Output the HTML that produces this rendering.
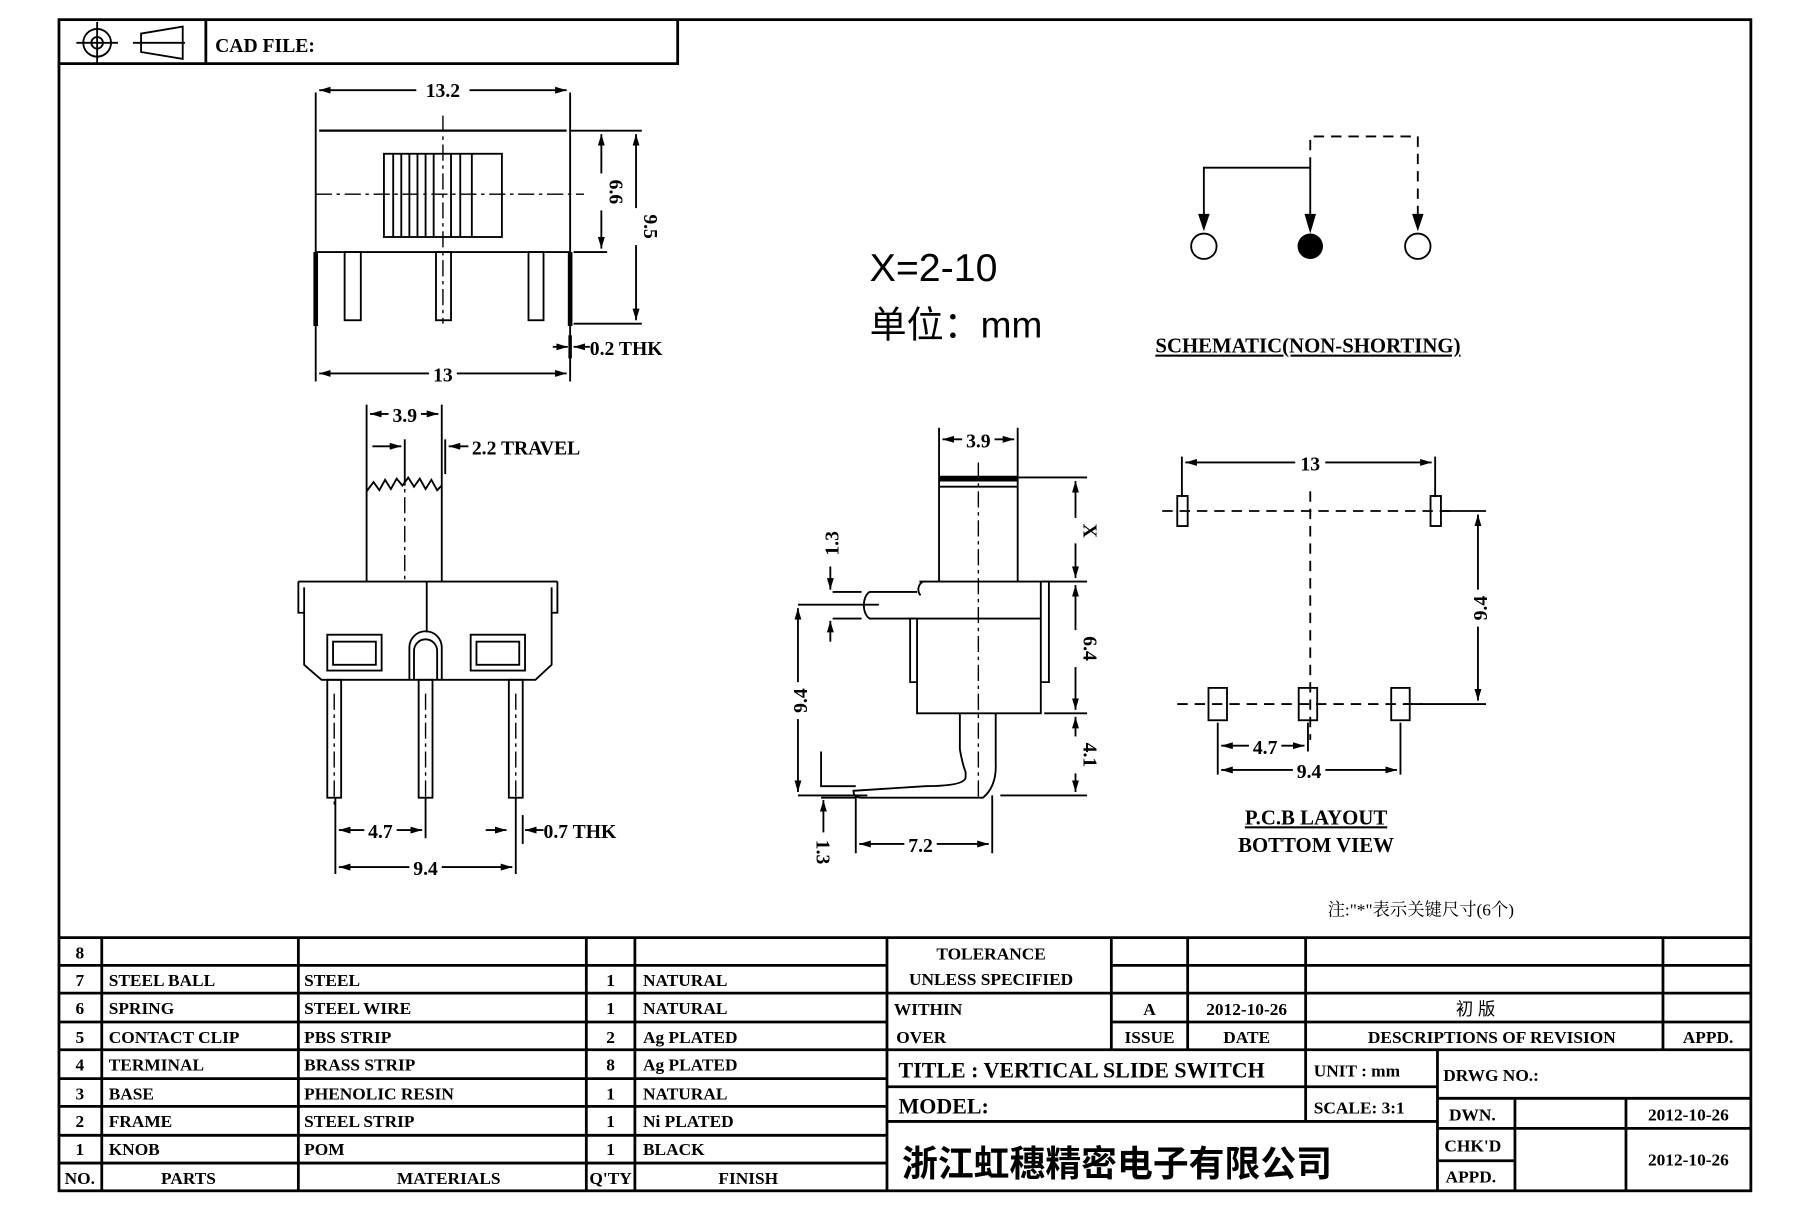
<!DOCTYPE html>
<html><head><meta charset="utf-8"><style>
html,body{margin:0;padding:0;background:#fff}
svg{display:block}
text{font-family:"Liberation Serif","Noto Serif CJK SC",serif;font-weight:bold;fill:#000}
.s{stroke:#000;stroke-width:1.6;fill:none}
.t{stroke:#000;stroke-width:2.4;fill:none}
.c{stroke:#000;stroke-width:1.2;fill:none;stroke-dasharray:14 4 3 4}
.d{stroke:#000;stroke-width:1.6;fill:none;stroke-dasharray:9 6}
.cn{font-family:"Liberation Sans","Noto Sans CJK SC",sans-serif}
</style></head><body>
<svg width="1811" height="1207" viewBox="0 0 1566 1044" preserveAspectRatio="none" xmlns="http://www.w3.org/2000/svg">
<defs>
<marker id="a" viewBox="0 0 10 6" refX="10" refY="3" markerWidth="10" markerHeight="6" orient="auto-start-reverse" markerUnits="userSpaceOnUse"><path d="M0,0L10,3L0,6z" fill="#000"/></marker>
</defs>
<!-- border -->
<rect x="51" y="17" width="1463" height="1013" class="t"/>
<path class="t" d="M51 55H586V17M178 17V55"/>
<circle cx="84" cy="37" r="12" class="s"/><circle cx="84" cy="37" r="5" class="s"/>
<path class="s" d="M66 37H102M84 19V55M115 37H160M122 29L158 23V51L122 45Z"/>
<text x="186" y="45" font-size="17">CAD  FILE:</text>

<!-- TOP VIEW -->
<path class="s" d="M273 80V218M493 80V218M273 218V330M493 218V330"/>
<line x1="276" y1="78" x2="490" y2="78" class="s" marker-start="url(#a)" marker-end="url(#a)"/>
<rect x="360" y="68" width="46" height="18" fill="#fff"/><text x="383" y="84" font-size="17" text-anchor="middle">13.2</text>
<path d="M276 113H490" stroke="#000" stroke-width="2" fill="none"/>
<path class="s" d="M273 218H493M493 113H555M496 218H525M496 280H555"/>
<rect x="332" y="133" width="102" height="72" class="s" stroke-width="2"/>
<path class="s" stroke-width="1" d="M340 133V205M347 133V205M354 133V205M361 133V205M368 133V205M375 133V205M390 133V205M398 133V205M408 133V205"/>
<path class="c" d="M273 168H505M383 100V280"/>
<path d="M273 218V282M493 218V282" stroke="#000" stroke-width="4"/>
<rect x="298" y="218" width="14" height="59" class="s"/><rect x="377" y="218" width="13" height="59" class="s"/><rect x="457" y="218" width="13" height="59" class="s"/>
<line x1="520" y1="116" x2="520" y2="215" class="s" marker-start="url(#a)" marker-end="url(#a)"/>
<rect x="511" y="150" width="18" height="32" fill="#fff"/><text transform="translate(527,166) rotate(90)" font-size="17" text-anchor="middle">6.6</text>
<line x1="550" y1="116" x2="550" y2="277" class="s" marker-start="url(#a)" marker-end="url(#a)"/>
<rect x="541" y="180" width="18" height="32" fill="#fff"/><text transform="translate(557,196) rotate(90)" font-size="17" text-anchor="middle">9.5</text>
<path d="M493 290V310" stroke="#000" stroke-width="3"/>
<line x1="478" y1="300" x2="491" y2="300" class="s" marker-end="url(#a)"/>
<line x1="510" y1="300" x2="496" y2="300" class="s" marker-end="url(#a)"/>
<text x="510" y="307" font-size="17">0.2  THK</text>
<line x1="276" y1="323" x2="490" y2="323" class="s" marker-start="url(#a)" marker-end="url(#a)"/>
<rect x="371" y="313" width="24" height="18" fill="#fff"/><text x="383" y="330" font-size="17" text-anchor="middle">13</text>

<!-- FRONT VIEW -->
<path class="s" d="M317 350V503M382 350V503"/>
<line x1="320" y1="358" x2="379" y2="358" class="s" marker-start="url(#a)" marker-end="url(#a)"/>
<rect x="336" y="348" width="28" height="18" fill="#fff"/><text x="350" y="365" font-size="17" text-anchor="middle">3.9</text>
<path class="s" d="M317 425L323 417L328 424L333 415L338 423L343 414L348 420L353 413L358 421L363 414L368 423L373 415L378 424L382 420"/>
<line x1="322" y1="386" x2="347" y2="386" class="s" marker-end="url(#a)"/>
<path class="s" d="M350 380V420M385 380V410"/>
<line x1="405" y1="386" x2="388" y2="386" class="s" marker-end="url(#a)"/>
<text x="408" y="393" font-size="17">2.2  TRAVEL</text>
<path class="c" d="M350 380V503"/>
<path class="s" d="M258 503H482M258 503V530H263M482 503V530H477M263 508V575L278 588H463L477 575V508"/>
<path class="s" d="M369 503V547"/>
<rect x="283" y="549" width="47" height="31" class="s"/><rect x="288" y="555" width="37" height="20" class="s"/>
<rect x="407" y="549" width="47" height="31" class="s"/><rect x="412" y="555" width="37" height="20" class="s"/>
<path class="s" d="M354 588V560A14 14 0 0 1 382 560V588M358 588V563A10 10 0 0 1 378 563V588"/>
<rect x="283" y="588" width="12" height="102" class="s"/><rect x="362" y="588" width="12" height="102" class="s"/><rect x="440" y="588" width="12" height="102" class="s"/>
<path class="c" d="M289 600V700M368 600V700M446 600V700"/>
<path class="s" d="M290 690V756M368 690V725M446 690V756M446 705V730"/>
<line x1="293" y1="718" x2="365" y2="718" class="s" marker-start="url(#a)" marker-end="url(#a)"/>
<rect x="315" y="708" width="28" height="18" fill="#fff"/><text x="329" y="725" font-size="17" text-anchor="middle">4.7</text>
<line x1="420" y1="718" x2="438" y2="718" class="s" marker-end="url(#a)"/>
<line x1="470" y1="718" x2="454" y2="718" class="s" marker-end="url(#a)"/>
<path class="s" d="M452 705V730"/>
<text x="470" y="725" font-size="17">0.7  THK</text>
<line x1="293" y1="750" x2="443" y2="750" class="s" marker-start="url(#a)" marker-end="url(#a)"/>
<rect x="354" y="740" width="28" height="18" fill="#fff"/><text x="368" y="757" font-size="17" text-anchor="middle">9.4</text>

<!-- X=2-10 -->
<text x="752" y="243" font-size="34" style="font-weight:normal" class="cn">X=2-10</text>
<text x="752" y="292" font-size="32" style="font-weight:normal" class="cn">单位：mm</text>

<!-- SIDE VIEW -->
<path class="s" d="M812 370V413M880 370V413"/>
<line x1="815" y1="380" x2="877" y2="380" class="s" marker-start="url(#a)" marker-end="url(#a)"/>
<rect x="832" y="370" width="28" height="18" fill="#fff"/><text x="846" y="387" font-size="17" text-anchor="middle">3.9</text>
<path d="M812 414H880" stroke="#000" stroke-width="5"/>
<path class="s" d="M812 413V503M880 413V503M812 421H880"/>
<path class="s" d="M795 503H900M900 503H907V590H900V503M793 535H900M793 535V617H900V535M787 535H793V590H787Z"/>
<path class="s" d="M793 512H752A7 12 0 0 0 752 535H793M798 503A8 8 0 0 0 796 515"/>
<path class="c" d="M846 400V690M695 523H760"/>
<path class="s" d="M830 617V648Q832 660 835 668L835 672Q835 680 800 680L738 684Q738 690 745 690H850Q862 680 861 660V617"/>
<path class="s" d="M880 413H940M903 503H940M903 617H940M865 688H940M690 688H750M690 523H760M720 512H745M720 535H745"/>
<line x1="930" y1="416" x2="930" y2="500" class="s" marker-start="url(#a)" marker-end="url(#a)"/>
<rect x="921" y="448" width="18" height="22" fill="#fff"/><text transform="translate(937,459) rotate(90)" font-size="17" text-anchor="middle">X</text>
<line x1="930" y1="506" x2="930" y2="614" class="s" marker-start="url(#a)" marker-end="url(#a)"/>
<rect x="921" y="545" width="18" height="32" fill="#fff"/><text transform="translate(937,561) rotate(90)" font-size="17" text-anchor="middle">6.4</text>
<line x1="930" y1="620" x2="930" y2="685" class="s" marker-start="url(#a)" marker-end="url(#a)"/>
<rect x="921" y="637" width="18" height="32" fill="#fff"/><text transform="translate(937,653) rotate(90)" font-size="17" text-anchor="middle">4.1</text>
<line x1="690" y1="526" x2="690" y2="685" class="s" marker-start="url(#a)" marker-end="url(#a)"/>
<rect x="681" y="590" width="18" height="32" fill="#fff"/><text transform="translate(698,606) rotate(-90)" font-size="17" text-anchor="middle">9.4</text>
<line x1="718" y1="490" x2="718" y2="510" class="s" marker-end="url(#a)"/>
<line x1="718" y1="555" x2="718" y2="537" class="s" marker-end="url(#a)"/>
<text transform="translate(725,470) rotate(-90)" font-size="17" text-anchor="middle">1.3</text>
<path class="s" d="M710 650V680H740M710 690H740"/>
<line x1="712" y1="720" x2="712" y2="692" class="s" marker-end="url(#a)"/>
<text transform="translate(706,737) rotate(90)" font-size="17" text-anchor="middle">1.3</text>
<path class="s" d="M740 688V738M858 688V738"/>
<line x1="743" y1="730" x2="855" y2="730" class="s" marker-start="url(#a)" marker-end="url(#a)"/>
<rect x="782" y="720" width="28" height="18" fill="#fff"/><text x="796" y="737" font-size="17" text-anchor="middle">7.2</text>

<!-- SCHEMATIC -->
<path class="s" d="M1133 145H1041V190M1133 145V198"/>
<path class="d" d="M1133 145V118H1226V195"/>
<path d="M1036 185L1041 200L1046 185Z M1128 185L1133 202L1138 185Z M1221 185L1226 200L1231 185Z" fill="#000"/>
<circle cx="1041" cy="213" r="11" class="s"/><circle cx="1133" cy="213" r="11" fill="#000"/><circle cx="1226" cy="213" r="11" class="s"/>
<text x="1131" y="305" font-size="18" text-anchor="middle" text-decoration="underline">SCHEMATIC(NON-SHORTING)</text>

<!-- PCB LAYOUT -->
<path class="s" d="M1022 395V430M1241 395V430M1245 442H1285M1215 609H1285M1053 625V670M1131 625V650M1211 625V670"/>
<line x1="1025" y1="400" x2="1238" y2="400" class="s" marker-start="url(#a)" marker-end="url(#a)"/>
<rect x="1120" y="390" width="26" height="18" fill="#fff"/><text x="1133" y="407" font-size="17" text-anchor="middle">13</text>
<line x1="1278" y1="445" x2="1278" y2="606" class="s" marker-start="url(#a)" marker-end="url(#a)"/>
<rect x="1269" y="510" width="18" height="32" fill="#fff"/><text transform="translate(1286,526) rotate(-90)" font-size="17" text-anchor="middle">9.4</text>
<line x1="1056" y1="645" x2="1128" y2="645" class="s" marker-start="url(#a)" marker-end="url(#a)"/>
<rect x="1080" y="635" width="28" height="18" fill="#fff"/><text x="1094" y="652" font-size="17" text-anchor="middle">4.7</text>
<line x1="1056" y1="666" x2="1208" y2="666" class="s" marker-start="url(#a)" marker-end="url(#a)"/>
<rect x="1118" y="656" width="28" height="18" fill="#fff"/><text x="1132" y="673" font-size="17" text-anchor="middle">9.4</text>
<rect x="1018" y="429" width="9" height="26" class="s" fill="#fff"/><rect x="1237" y="429" width="9" height="26" class="s" fill="#fff"/>
<rect x="1045" y="595" width="16" height="28" class="s" fill="#fff"/><rect x="1123" y="595" width="16" height="28" class="s" fill="#fff"/><rect x="1203" y="595" width="16" height="28" class="s" fill="#fff"/>
<path class="d" d="M1005 442H1260M1018 609H1230M1133 425V640"/>
<text x="1138" y="713" font-size="18" text-anchor="middle" text-decoration="underline">P.C.B LAYOUT</text>
<text x="1138" y="737" font-size="18" text-anchor="middle">BOTTOM  VIEW</text>
<text x="1148" y="792" font-size="15" style="font-weight:normal">注:"*"表示关键尺寸(6个)</text>

<!-- PARTS TABLE -->
<g class="t" stroke-width="2">
<path d="M51 811H1514"/>
<path d="M51 835H767M51 859H767M51 884H767M51 908H767M51 933H767M51 957H767M51 982H767M51 1006H767"/>
<path d="M88 811V1030M258 811V1030M507 811V1030M549 811V1030M767 811V1030"/>
<path d="M961 835H1514M767 859H1514M961 884H1514M767 908H1514M767 940H1243M767 970H1243M1243 950H1514M1243 976H1514M1243 1004H1310"/>
<path d="M961 811V908M1027 811V908M1129 811V970M1438 811V908M1243 908V1030M1310 950V1030M1406 950V1030"/>
</g>
<g font-size="15">
<text x="69" y="829" text-anchor="middle">8</text>
<text x="69" y="853" text-anchor="middle">7</text><text x="94" y="853">STEEL  BALL</text><text x="263" y="853">STEEL</text><text x="528" y="853" text-anchor="middle">1</text><text x="556" y="853">NATURAL</text>
<text x="69" y="877" text-anchor="middle">6</text><text x="94" y="877">SPRING</text><text x="263" y="877">STEEL  WIRE</text><text x="528" y="877" text-anchor="middle">1</text><text x="556" y="877">NATURAL</text>
<text x="69" y="902" text-anchor="middle">5</text><text x="94" y="902">CONTACT  CLIP</text><text x="263" y="902">PBS  STRIP</text><text x="528" y="902" text-anchor="middle">2</text><text x="556" y="902">Ag  PLATED</text>
<text x="69" y="926" text-anchor="middle">4</text><text x="94" y="926">TERMINAL</text><text x="263" y="926">BRASS  STRIP</text><text x="528" y="926" text-anchor="middle">8</text><text x="556" y="926">Ag  PLATED</text>
<text x="69" y="951" text-anchor="middle">3</text><text x="94" y="951">BASE</text><text x="263" y="951">PHENOLIC  RESIN</text><text x="528" y="951" text-anchor="middle">1</text><text x="556" y="951">NATURAL</text>
<text x="69" y="975" text-anchor="middle">2</text><text x="94" y="975">FRAME</text><text x="263" y="975">STEEL  STRIP</text><text x="528" y="975" text-anchor="middle">1</text><text x="556" y="975">Ni  PLATED</text>
<text x="69" y="999" text-anchor="middle">1</text><text x="94" y="999">KNOB</text><text x="263" y="999">POM</text><text x="528" y="999" text-anchor="middle">1</text><text x="556" y="999">BLACK</text>
<text x="69" y="1024" text-anchor="middle">NO.</text><text x="163" y="1024" text-anchor="middle">PARTS</text><text x="388" y="1024" text-anchor="middle">MATERIALS</text><text x="528" y="1024" text-anchor="middle">Q'TY</text><text x="647" y="1024" text-anchor="middle">FINISH</text>
<text x="857" y="830" text-anchor="middle">TOLERANCE</text>
<text x="857" y="852" text-anchor="middle">UNLESS   SPECIFIED</text>
<text x="773" y="878">WITHIN</text><text x="775" y="902">OVER</text>
<text x="994" y="878" text-anchor="middle">A</text><text x="1078" y="878" text-anchor="middle">2012-10-26</text>
<text x="1276" y="878" text-anchor="middle" class="cn" style="font-weight:normal">初  版</text>
<text x="994" y="902" text-anchor="middle">ISSUE</text><text x="1078" y="902" text-anchor="middle">DATE</text>
<text x="1290" y="902" text-anchor="middle">DESCRIPTIONS  OF  REVISION</text><text x="1477" y="902" text-anchor="middle">APPD.</text>
<text x="1136" y="931">UNIT :  mm</text>
<text x="1136" y="963">SCALE:   3:1</text>
<text x="1248" y="935">DRWG  NO.:</text>
<text x="1253" y="969">DWN.</text><text x="1460" y="969" text-anchor="middle">2012-10-26</text>
<text x="1249" y="996">CHK'D</text><text x="1460" y="1008" text-anchor="middle">2012-10-26</text>
<text x="1250" y="1023">APPD.</text>
</g>
<text x="777" y="932" font-size="19">TITLE :   VERTICAL  SLIDE  SWITCH</text>
<text x="777" y="963" font-size="19">MODEL:</text>
<text x="780" y="1017" font-size="31" class="cn" font-weight="bold">浙江虹穗精密电子有限公司</text>
</svg>
</body></html>
